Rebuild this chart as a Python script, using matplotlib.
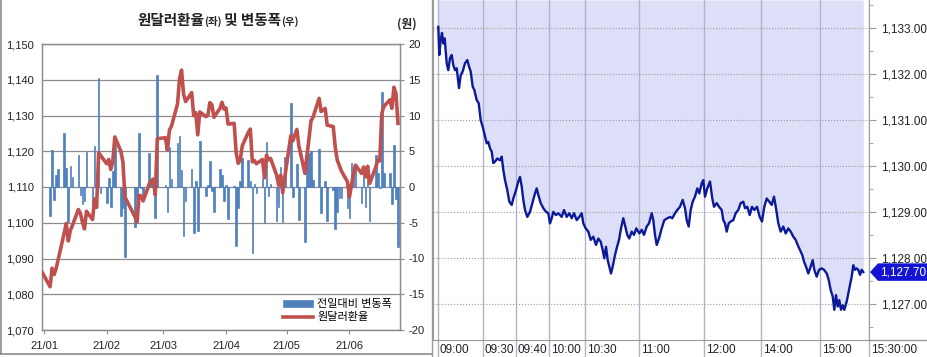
import matplotlib
matplotlib.use('Agg')

import matplotlib.pyplot    as plt
import matplotlib.ticker    as mticker
import matplotlib.transforms as mtrans
import numpy                as np
import pandas               as pd

from matplotlib.offsetbox import TextArea, HPacker, AnchoredOffsetbox
from matplotlib.patches   import Polygon
from matplotlib.lines     import Line2D


plt.rcParams['font.family']        = ['Liberation Sans', 'Noto Sans CJK KR']
plt.rcParams['axes.unicode_minus'] = False

# ---- left panel: daily close and daily change (2021 H1) ----
holidays     = ['2021-02-11', '2021-02-12', '2021-03-01', '2021-05-05', '2021-05-19']
trade_days   = pd.bdate_range('2021-01-04', '2021-06-25').drop(pd.to_datetime(holidays))
start_day    = pd.Timestamp('2020-12-31')
start_rate   = 1086.2

rate_jan = [1082.1, 1087.3, 1085.5, 1087.2, 1089.7, 1097.2, 1099.8, 1094.9, 1097.8, 1099.2,
            1103.7, 1102.6, 1100.2, 1098.3, 1103.2, 1100.9, 1106.7, 1104.3, 1119.6, 1118.8]
rate_feb = [1116.5, 1117.7, 1114.9, 1117.2, 1124.0, 1120.0, 1117.0, 1107.2, 1101.6, 1100.2,
            1107.7, 1107.5, 1106.1, 1110.8, 1111.7, 1112.2, 1107.8, 1123.5]
rate_mar = [1123.8, 1120.3, 1125.9, 1127.0, 1133.2, 1140.3, 1142.7, 1135.9, 1133.9, 1136.4,
            1130.0, 1130.8, 1124.6, 1131.0, 1129.7, 1130.0, 1133.6, 1133.0, 1129.5, 1132.0,
            1133.7, 1131.8]
rate_apr = [1132.1, 1127.6, 1127.8, 1119.6, 1116.6, 1117.5, 1121.5, 1125.3, 1126.2, 1117.0,
            1117.4, 1116.5, 1117.7, 1112.6, 1118.9, 1117.6, 1118.0, 1113.3, 1110.5, 1113.3,
            1108.4, 1112.6]
rate_may = [1124.3, 1122.9, 1126.1, 1121.5, 1113.8, 1118.8, 1123.5, 1128.5, 1129.5, 1134.8,
            1131.1, 1132.0, 1127.3, 1126.9, 1121.0, 1117.5, 1116.0, 1114.5, 1111.5]
rate_jun = [1107.2, 1110.5, 1113.5, 1116.1, 1113.8, 1115.6, 1112.8, 1115.8, 1111.0, 1115.5,
            1117.5, 1117.3, 1130.6, 1132.5, 1134.4, 1132.0, 1137.9, 1136.2, 1127.8]

chg_jan = [-4.1, 5.2, -1.8, 1.7, 2.5, 7.5, 2.6, -4.9, 2.9, 1.4,
           4.5, -1.1, -2.4, -1.9, 4.9, -2.3, 5.8, -2.4, 15.3, -0.8]
chg_feb = [-2.3, 1.2, -2.8, 2.3, 6.8, -4.0, -3.0, -9.8, -5.6, -1.4,
           7.5, -0.2, -1.4, 4.7, 0.9, 0.5, -4.4, 15.7]
chg_mar = [0.3, -3.5, 5.6, 1.1, 6.2, 7.1, 2.4, -6.8, -2.0, 2.5,
           -6.4, 0.8, -6.2, 6.4, -1.3, 0.3, 3.6, -0.6, -3.5, 2.5,
           1.7, -1.9]
chg_apr = [0.3, -4.5, 0.2, -8.2, -3.0, 0.9, 4.0, 3.8, 0.9, -9.2,
           0.4, -0.9, 1.2, -5.1, 6.3, -1.3, 0.4, -4.7, -2.8, 2.8,
           -4.9, 4.2]
chg_may = [11.7, -1.4, 3.2, -4.6, -7.7, 5.0, 4.7, 5.0, 1.0, 5.3,
           -3.7, 0.9, -4.7, -0.4, -5.9, -3.5, -1.5, -1.5, -3.0]
chg_jun = [-4.3, 3.3, 3.0, 2.6, -2.3, 1.8, -2.8, 3.0, -4.8, 4.5,
           2.0, -0.2, 13.3, 1.9, 1.9, -2.4, 5.9, -1.7, -8.4]

rates   = rate_jan + rate_feb + rate_mar + rate_apr + rate_may + rate_jun
changes = chg_jan + chg_feb + chg_mar + chg_apr + chg_may + chg_jun

month_ticks  = pd.date_range('2021-01-01', periods=6, freq='MS')
month_labels = ['21/01', '21/02', '21/03', '21/04', '21/05', '21/06']

# ---- right panel: intraday ticks ----
tick_no = [5.3, 6.3, 7.7, 9.0, 10.3, 11.7, 13.7, 15.3, 17.0, 18.7, 20.3, 22.0, 23.7, 26.0,
           27.7, 29.7, 32.0, 34.3, 36.0, 37.7, 39.7, 41.3, 43.7, 45.7, 47.7, 49.7, 51.3,
           53.7, 55.3, 57.0, 58.7, 60.3, 62.0, 64.3, 67.0, 68.7, 70.3, 72.0, 74.3, 76.3,
           78.7, 80.3, 83.0, 85.3, 87.0, 88.7, 90.3, 92.0, 94.3, 97.0, 99.7, 102.0, 103.7,
           105.3, 107.7, 110.3, 113.0, 115.3, 117.0, 118.7, 120.3, 123.0, 125.3, 128.7,
           131.0, 133.7, 136.3, 138.7, 141.0, 143.7, 146.3, 148.7, 150.3, 152.7, 155.3,
           157.7, 160.3, 163.0, 165.3, 167.7, 169.7, 171.3, 173.0, 174.7, 176.3, 178.0,
           179.7, 182.0, 183.7, 186.0, 188.0, 190.3, 192.0, 194.3, 196.3, 198.7, 201.0,
           203.3, 206.3, 208.7, 211.0, 213.7, 216.0, 218.7, 220.3, 222.0, 223.7, 226.0,
           228.7, 231.3, 234.3, 237.0, 239.3, 242.0, 244.3, 247.0, 249.7, 252.0, 253.7,
           255.7, 257.7, 259.7, 262.0, 264.3, 266.3, 268.7, 270.3, 272.0, 274.3, 277.0,
           279.3, 281.0, 283.7, 286.0, 288.7, 290.3, 292.0, 293.7, 295.7, 297.7, 300.3,
           302.7, 305.3, 307.7, 310.3, 312.0, 314.3, 316.7, 319.0, 321.3, 324.0, 326.7,
           329.0, 331.3, 333.7, 336.3, 338.7, 341.0, 343.0, 345.3, 347.7, 350.3, 352.7,
           355.3, 357.7, 360.3, 362.7, 364.7, 367.0, 369.3, 371.0, 373.0, 375.3, 377.7,
           379.7, 381.3, 383.7, 386.0, 388.7, 391.0, 393.7, 395.7, 397.7, 399.7, 401.3,
           403.0, 404.7, 406.3, 408.0, 409.7, 411.3, 413.7, 415.3, 417.0, 418.7, 420.3,
           422.0, 423.7, 425.3, 427.0, 428.7, 430.3]
price = [1133.03, 1132.42, 1132.75, 1132.90, 1132.67, 1132.78, 1132.24, 1132.09, 1132.35,
         1132.42, 1132.20, 1132.09, 1132.13, 1131.70, 1131.98, 1132.06, 1132.24, 1132.31,
         1132.17, 1132.06, 1131.73, 1131.66, 1131.44, 1131.37, 1131.00, 1130.86, 1130.72,
         1130.50, 1130.53, 1130.39, 1130.32, 1130.07, 1130.10, 1130.17, 1130.13, 1130.21,
         1129.92, 1129.70, 1129.48, 1129.23, 1129.16, 1129.30, 1129.48, 1129.67, 1129.77,
         1129.56, 1129.27, 1129.05, 1128.90, 1129.01, 1129.23, 1129.41, 1129.52, 1129.38,
         1129.20, 1129.09, 1129.01, 1128.98, 1128.76, 1128.87, 1129.01, 1128.94, 1128.98,
         1128.90, 1129.05, 1128.90, 1128.98, 1128.87, 1128.98, 1128.83, 1128.90, 1128.98,
         1128.76, 1128.65, 1128.58, 1128.40, 1128.47, 1128.29, 1128.43, 1128.36, 1128.18,
         1128.00, 1128.25, 1127.96, 1127.82, 1127.67, 1127.82, 1128.07, 1128.22, 1128.40,
         1128.65, 1128.87, 1128.72, 1128.51, 1128.43, 1128.58, 1128.51, 1128.65, 1128.54,
         1128.62, 1128.51, 1128.69, 1128.76, 1128.98, 1128.83, 1128.51, 1128.29, 1128.43,
         1128.65, 1128.83, 1128.87, 1128.90, 1128.87, 1128.98, 1129.05, 1129.12, 1129.27,
         1129.09, 1128.83, 1128.69, 1129.05, 1129.23, 1129.34, 1129.52, 1129.41, 1129.63,
         1129.70, 1129.34, 1129.52, 1129.67, 1129.30, 1129.12, 1129.20, 1129.12, 1129.05,
         1128.83, 1128.76, 1128.58, 1128.76, 1128.80, 1128.83, 1128.98, 1129.05, 1129.20,
         1129.23, 1129.09, 1129.12, 1128.94, 1129.12, 1129.05, 1129.12, 1128.90, 1128.80,
         1129.12, 1129.30, 1129.23, 1129.16, 1129.34, 1129.09, 1128.76, 1128.58, 1128.69,
         1128.54, 1128.65, 1128.58, 1128.47, 1128.40, 1128.29, 1128.18, 1128.07, 1127.93,
         1127.82, 1127.67, 1127.82, 1127.96, 1127.75, 1127.60, 1127.75, 1127.78, 1127.75,
         1127.67, 1127.53, 1127.31, 1127.17, 1126.88, 1127.20, 1126.95, 1127.09, 1126.88,
         1126.98, 1126.88, 1127.06, 1127.24, 1127.42, 1127.60, 1127.85, 1127.75, 1127.78,
         1127.75, 1127.64, 1127.75, 1127.70]
last_price = 1127.70

time_ticks  = [5, 50, 83, 116, 152, 206, 271, 328, 387, 436]
time_labels = ['09:00', '09:30', '09:40', '10:00', '10:30', '11:00', '12:00',
               '14:00', '15:00', '15:30:00']


W, H = 928, 357


def frac(x0, y0, x1, y1):
    """pixel box -> figure fraction rect"""
    return [x0 / W, 1 - y1 / H, (x1 - x0) / W, (y1 - y0) / H]


fig = plt.figure(figsize=(W / 100, H / 100), dpi=100)
fig.patch.set_facecolor('white')

grey = '#8c8c8c'
ink  = '#222222'
blue = '#4f81bd'

# ---------------- left panel ----------------
axb = fig.add_axes(frac(42, 44, 400, 330))
axl = axb.twinx()

bars = axb.bar(trade_days, changes, width=0.8, color=blue, edgecolor=blue,
               linewidth=0.5, zorder=2)
axb.set_ylim(-20, 20)
axb.set_yticks(range(-20, 21, 5))
axb.grid(axis='y', color=grey, lw=0.9)
axb.set_axisbelow(True)

line, = axl.plot([start_day] + list(trade_days), [start_rate] + rates,
                 color='#c0504d', lw=2.6, solid_joinstyle='round', zorder=3)
axl.set_ylim(1070, 1150)
axl.set_yticks(range(1070, 1151, 10))
axl.yaxis.set_major_formatter(mticker.FuncFormatter(lambda v, p: '{:,.0f}'.format(v)))

axl.yaxis.tick_left()
axb.yaxis.tick_right()

axb.set_xlim(pd.Timestamp('2020-12-31'), pd.Timestamp('2021-06-26'))
axb.set_xticks(month_ticks)
axb.set_xticklabels(month_labels)

for a in (axb, axl):
    for s in a.spines.values():
        s.set_color(grey)
        s.set_linewidth(0.9)

axb.tick_params(axis='x', length=3, color=grey, labelsize=8, pad=5, labelcolor=ink)
axb.tick_params(axis='y', length=3, color=grey, labelsize=8, pad=3, labelcolor=ink)
axl.tick_params(axis='y', length=0, labelsize=8, pad=6, labelcolor=ink)

axl.legend([bars, line], ['전일대비 변동폭', '원달러환율'], loc='lower right',
           bbox_to_anchor=(1.0, 0.0), frameon=False, fontsize=8,
           handlelength=2.7, handleheight=0.6, handletextpad=0.4,
           labelspacing=0.25, borderaxespad=0.3)

# title with small (좌)/(우)
parts = [('원달러환율', 10.5), ('(좌)', 7.5), (' 및 변동폭', 10.5), ('(우)', 7.5)]
boxes = [TextArea(t, textprops=dict(fontsize=s, fontweight='bold', color=ink,
                                    family=['Noto Sans CJK KR']))
         for t, s in parts]
title = AnchoredOffsetbox(loc='center', child=HPacker(children=boxes, align='baseline',
                                                       pad=0, sep=0),
                          bbox_to_anchor=(218 / W, 1 - 20 / H),
                          bbox_transform=fig.transFigure, frameon=False,
                          pad=0, borderpad=0)
fig.add_artist(title)
fig.text(407 / W, 1 - 24 / H, '(원)', ha='center', va='center', fontsize=8.5,
         fontweight='bold', color=ink, family=['Noto Sans CJK KR'])

# panel frame lines
fig.add_artist(Line2D([0.8 / W, 0.8 / W], [1 - 354 / H, 1], color=grey, lw=1.2))
fig.add_artist(Line2D([0, 432 / W], [1 - 353.5 / H] * 2, color=grey, lw=1.2))
fig.add_artist(Line2D([432.5 / W] * 2, [0, 1], color='#9a9a9a', lw=1.0))

# ---------------- right panel ----------------
axr = fig.add_axes(frac(433, 0, 869, 340))
y_lo, y_hi = 1126.224, 1133.615

axr.fill_between(tick_no, price, y_hi, color='#dcdff7', lw=0, zorder=1)
axr.plot(tick_no, price, color='#0c1a9a', lw=1.7, zorder=3)

axr.set_xlim(0, 436)
axr.set_ylim(y_lo, y_hi)
axr.yaxis.tick_right()
axr.set_yticks(np.arange(1127, 1134, 1))
axr.yaxis.set_minor_locator(mticker.MultipleLocator(0.5))
axr.yaxis.set_major_formatter(mticker.FuncFormatter(lambda v, p: '{:,.2f}'.format(v)))

axr.set_xticks(time_ticks)
axr.set_xticklabels(time_labels, ha='left')

axr.yaxis.grid(True, ls=':', color='#9a9a9a', lw=0.8, zorder=2)
axr.xaxis.grid(True, color='#b0b3cc', lw=1.0, zorder=2)

axr.spines['top'].set_visible(False)
for s in ('left', 'right', 'bottom'):
    axr.spines[s].set_color('#9a9a9a')

axr.tick_params(axis='x', length=12, color='#b0b3cc', width=1.0, labelsize=8.5,
                pad=-9, labelcolor=ink)
offset = mtrans.ScaledTranslation(2 / 100, 0, fig.dpi_scale_trans)
for lab in axr.get_xticklabels():
    lab.set_transform(lab.get_transform() + offset)

axr.tick_params(axis='y', which='major', length=5, color='#9a9a9a', labelsize=8.5,
                pad=4, labelcolor=ink)
axr.tick_params(axis='y', which='minor', length=3, color='#9a9a9a')

fig.add_artist(Line2D([869 / W, 1], [1 - 340 / H] * 2, color='#9a9a9a', lw=1.0))

# last price tag
tr  = mtrans.blended_transform_factory(axr.transAxes, axr.transData)
px  = 1 / 436
hh  = 0.19
tag = Polygon([(1 + 1 * px, last_price), (1 + 9 * px, last_price + hh),
               (1 + 59 * px, last_price + hh), (1 + 59 * px, last_price - hh),
               (1 + 9 * px, last_price - hh)],
              closed=True, transform=tr, facecolor='#1414d2', edgecolor='none',
              clip_on=False, zorder=5)
axr.add_patch(tag)
axr.text(1 + 34 * px, last_price, '{:,.2f}'.format(last_price), transform=tr,
         ha='center', va='center', color='white', fontsize=8.5, zorder=6, clip_on=False)

plt.savefig('out.png', dpi=100)
